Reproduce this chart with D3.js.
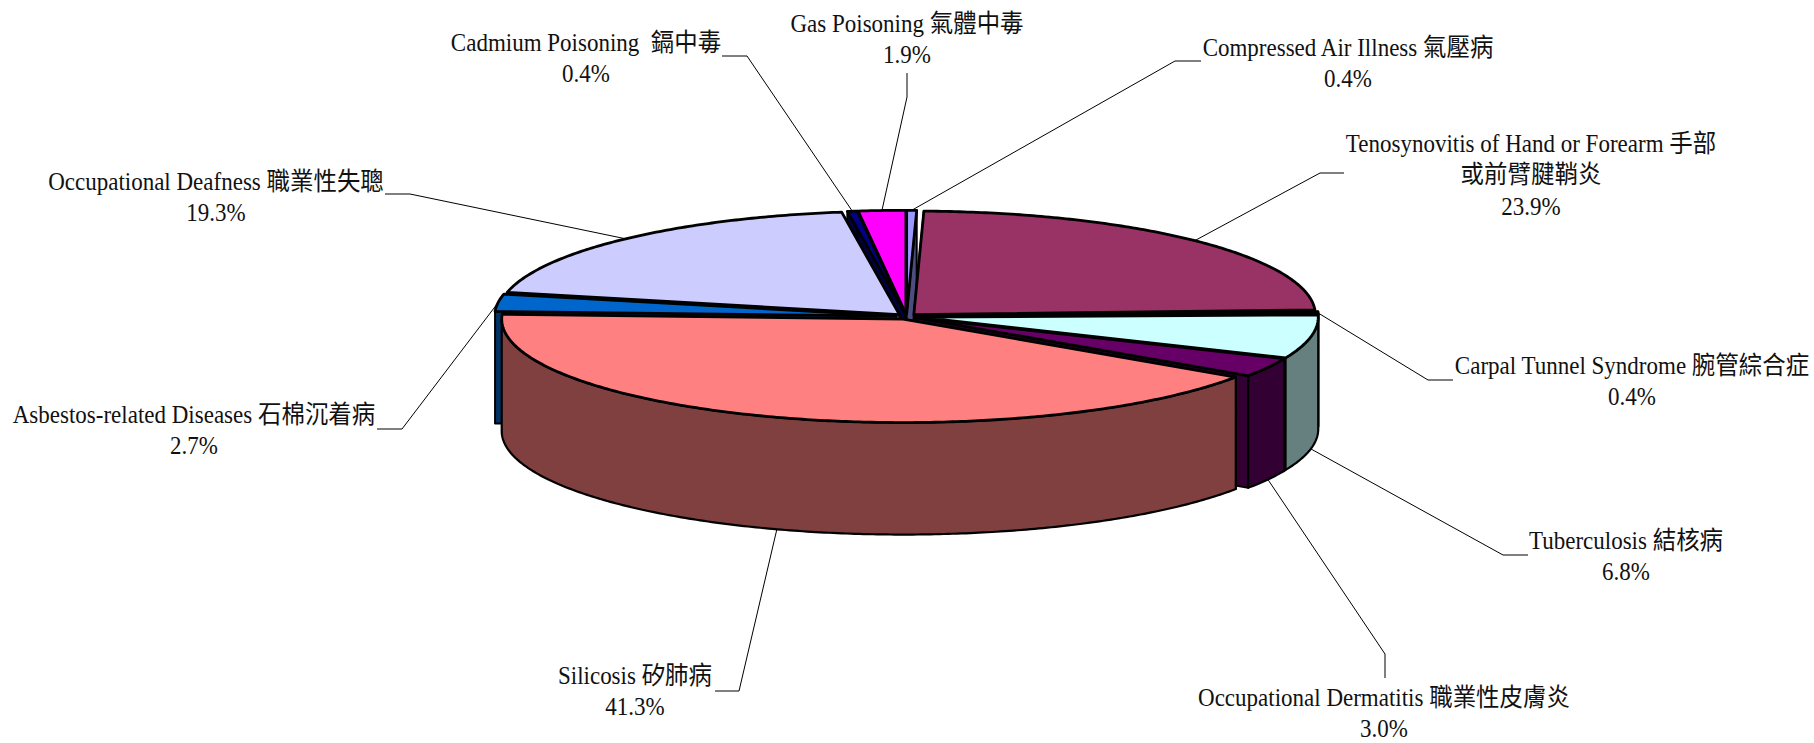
<!DOCTYPE html>
<html lang="en">
<head>
<meta charset="utf-8">
<title>Occupational diseases pie</title>
<script src="https://cdn.jsdelivr.net/npm/d3@7"></script>
<style>
  html, body { margin: 0; background: #fff; }
  svg { display: block; }
  text { font-family: "Liberation Serif", "Noto Sans CJK TC", serif; font-size: 25px; fill: #111; text-anchor: middle; white-space: pre; }
  .cjk { font-size: 25.5px; font-family: "Noto Sans CJK TC", sans-serif; }
  .leader { fill: none; stroke: #000; stroke-width: 1; }
</style>
</head>
<body>
<script>
// slices clockwise from 12 o'clock
var categories = [
  "Compressed Air Illness 氣壓病",
  "Tenosynovitis of Hand or Forearm 手部|或前臂腱鞘炎",
  "Carpal Tunnel Syndrome 腕管綜合症",
  "Tuberculosis 結核病",
  "Occupational Dermatitis 職業性皮膚炎",
  "Silicosis 矽肺病",
  "Asbestos-related Diseases 石棉沉着病",
  "Occupational Deafness 職業性失聰",
  "Cadmium Poisoning  鎘中毒",
  "Gas Poisoning 氣體中毒"
];
var values = [0.4, 23.9, 0.4, 6.8, 3.0, 41.3, 2.7, 19.3, 0.4, 1.9];
var topColors = ["#9999ff", "#993366", "#ffffcc", "#ccffff", "#660066", "#ff8080", "#0066cc", "#ccccff", "#000080", "#ff00ff"];

// label layout: centre x, y of first line centre
var labelX = [1348, 1531, 1632, 1626, 1384, 635, 194, 216, 586, 907];
var labelY = [48, 144, 366, 541, 698, 676, 415, 182, 43, 24];
// leader line: elbow point then end point
var leaderMid = [[1175, 61], [1320, 173], [1428, 380], [1503, 555], [1385, 654], [739, 691], [402, 429], [410, 194], [747, 56], [907, 97]];
var leaderEnd = [[1201, 61], [1344, 173], [1453, 380], [1528, 555], [1385, 678], [715, 691], [377, 429], [385, 194], [722, 56], [907, 73]];

var w = 1814, h = 743;
var depth = 112;
var explode = 0.026;
var lineGap = 31.5;
var squeeze = 0.92; // the labels are narrow in the original

// unit circle -> screen
var xScale = d3.scaleLinear().domain([-1, 1]).range([505, 1308]);
var yScale = d3.scaleLinear().domain([-1, 1]).range([213, 420]);

var svg = d3.select("body").append("svg").attr("width", w).attr("height", h);

var pie = d3.pie().sort(null).startAngle(0).endAngle(2 * Math.PI);
var slices = pie(values).map(function(d, i) {
  d.i = i;
  d.mid = (d.startAngle + d.endAngle) / 2;
  d.ox = explode * Math.sin(d.mid);
  d.oy = -explode * Math.cos(d.mid);
  return d;
});

function pt(d, a, r, drop) {
  return [xScale(d.ox + r * Math.sin(a)), yScale(d.oy - r * Math.cos(a)) + (drop || 0)];
}
function arcPts(d, a0, a1, drop) {
  var n = Math.max(2, Math.ceil((a1 - a0) * 90));
  return d3.range(n + 1).map(function(k) {
    return pt(d, a0 + (a1 - a0) * k / n, 1, drop);
  });
}
var line = d3.line();
function closed(pts) { return line(pts) + "Z"; }

function darker(c) {
  var r = d3.rgb(c);
  return d3.rgb(r.r / 2, r.g / 2, r.b / 2).formatHex();
}

// back to front, the slice nearest the viewer last
var order = slices.slice().sort(function(a, b) {
  return Math.abs(b.mid - Math.PI) - Math.abs(a.mid - Math.PI);
});

var g = svg.selectAll("g.slice").data(order).enter().append("g").attr("class", "slice");

g.each(function(d) {
  var s = d3.select(this);
  var side = darker(topColors[d.i]);
  // cut walls
  [d.startAngle, d.endAngle].forEach(function(a) {
    s.append("path")
      .attr("d", closed([pt(d, a, 0), pt(d, a, 1), pt(d, a, 1, depth), pt(d, a, 0, depth)]))
      .attr("fill", side).attr("stroke", "#000").attr("stroke-width", 2).attr("stroke-linejoin", "round");
  });
  // outer wall, front half only
  var a0 = Math.max(d.startAngle, Math.PI / 2), a1 = Math.min(d.endAngle, 3 * Math.PI / 2);
  if (a1 > a0) {
    s.append("path")
      .attr("d", closed(arcPts(d, a0, a1).concat(arcPts(d, a0, a1, depth).reverse())))
      .attr("fill", side).attr("stroke", "#000").attr("stroke-width", 2.2).attr("stroke-linejoin", "round");
  }
  // top
  s.append("path")
    .attr("d", closed([pt(d, 0, 0)].concat(arcPts(d, d.startAngle, d.endAngle))))
    .attr("fill", topColors[d.i]).attr("stroke", "#000").attr("stroke-width", 2.8).attr("stroke-linejoin", "round");
});

// leader lines start on the visible rim at the slice's mid angle
slices.forEach(function(d) {
  var front = Math.cos(d.mid) < 0;
  var start = pt(d, d.mid, 1, front ? depth : 0);
  svg.append("path").attr("class", "leader")
    .attr("d", line([start, leaderMid[d.i], leaderEnd[d.i]]));
});

// labels, latin and chinese runs get their own size
categories.forEach(function(c, i) {
  var lines = c.split("|").concat(values[i].toFixed(1) + "%");
  var t = svg.append("text")
    .attr("transform", "translate(" + labelX[i] + ",0) scale(" + squeeze + ",1)");
  lines.forEach(function(l, k) {
    var row = t.append("tspan").attr("x", 0).attr("y", labelY[i] + k * lineGap + 8);
    l.split(/([\u4e00-\u9fff]+)/).forEach(function(run) {
      if (run === "") return;
      row.append("tspan").classed("cjk", /[\u4e00-\u9fff]/.test(run)).text(run);
    });
  });
});
</script>
</body>
</html>
